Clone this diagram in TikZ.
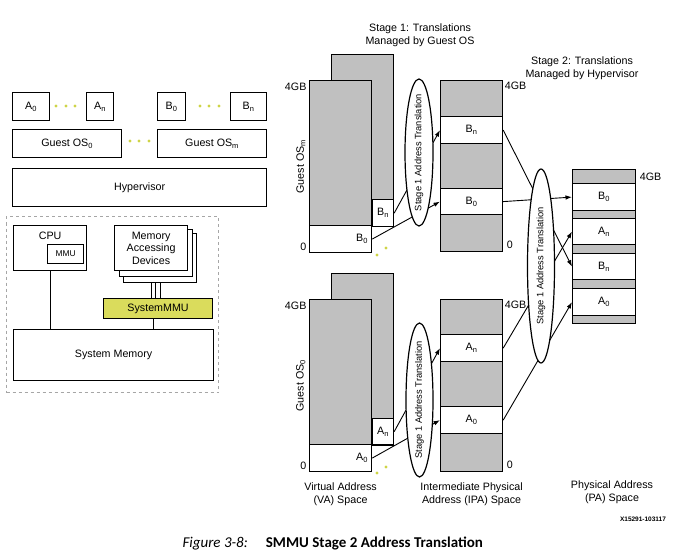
\documentclass[tikz,border=0pt]{standalone}
\usepackage{fontspec}
\setmainfont{Liberation Sans}
\newfontfamily\capfont{Carlito}
\usetikzlibrary{shapes.geometric,arrows.meta,positioning}
\definecolor{memgray}{RGB}{192,192,192}
\definecolor{smmuyellow}{RGB}{218,220,92}
\definecolor{dotyellow}{RGB}{206,212,70}

\begin{document}
\begin{tikzpicture}[x=1pt, y=-1pt, line width=1.2pt]
      \fontsize{10.7}{13}\selectfont
      \tikzstyle{box}=[draw, anchor=north west, inner sep=0pt]
      \tikzstyle{mem}=[box, fill=memgray]
      \tikzstyle{seg}=[box, fill=white]
      \tikzstyle{trans}=[draw, ellipse, fill=white, inner sep=0pt]
      \tikzstyle{translbl}=[rotate=90, font=\fontsize{9.3}{11}\selectfont]
      \tikzstyle{arrow}=[line width=0.9pt, -{Latex[length=6.5pt, width=4.5pt]}]
      \tikzstyle{dot}=[fill=dotyellow]
      \useasboundingbox (0,0) rectangle (677,556);

      % software stack
      \node[box, minimum width=37pt, minimum height=28pt] (a0) at (12,92) {A\textsubscript{0}};
      \node[box, minimum width=27pt, minimum height=28pt] (an) at (86,92) {A\textsubscript{n}};
      \node[box, minimum width=28pt, minimum height=28pt] (b0) at (157,92) {B\textsubscript{0}};
      \node[box, minimum width=36pt, minimum height=28pt] (bn) at (230,92) {B\textsubscript{n}};
      \node[box, minimum width=109pt, minimum height=28pt] (os0) at (12,129) {Guest OS\textsubscript{0}};
      \node[box, minimum width=109pt, minimum height=28pt] (osm) at (157,129) {Guest OS\textsubscript{m}};
      \node[box, minimum width=254pt, minimum height=38pt] (hyp) at (12,168) {Hypervisor};
      \foreach \x in {56,66,75,200,209,219} \fill[dot] (\x,106) circle (1.6pt);
      \foreach \x in {130,139,149} \fill[dot] (\x,141) circle (1.6pt);

      % hardware
      \node[box, draw=gray!70, dashed, line width=1pt, minimum width=212pt, minimum height=176pt] (soc) at (6,216) {};
      \node[box, minimum width=73pt, minimum height=45pt] (cpu) at (13,225) {};
      \node[below=3pt of cpu.north] (cpulbl) {CPU};
      \node[box, minimum width=36pt, minimum height=19pt, font=\fontsize{8.4}{10}\selectfont] (mmu) at (47,244) {MMU};
      \node[seg, minimum width=73pt, minimum height=49pt] (mad3) at (123,233) {};
      \node[seg, minimum width=73pt, minimum height=47pt] (mad2) at (118.5,229) {};
      \node[seg, minimum width=73pt, minimum height=45pt, align=center, font=\fontsize{10.7}{12.5}\selectfont] (mad1) at (114,225) {Memory\\Accessing\\Devices};
      \node[box, fill=smmuyellow, minimum width=109pt, minimum height=20pt] (smmu) at (103,298) {SystemMMU};
      \node[box, minimum width=200pt, minimum height=51pt] (sysmem) at (13,329) {System Memory};
      \foreach \m in {mad1,mad2,mad3}
        \draw (mad3.south -| \m.center) -- (smmu.north -| \m.center);
      \draw (cpu.south) -- (cpu.south |- sysmem.north);
      \draw ([xshift=-4.5pt]smmu.south) -- ([xshift=-4.5pt]smmu.south |- sysmem.north);

      % titles
      \node[align=center] (stage1) at (420,35.5) {Stage 1: Translations\\Managed by Guest OS};
      \node[align=center] (stage2) at (582,68) {Stage 2: Translations\\Managed by Hypervisor};

      % guest OS m, VA and IPA
      \node[mem, minimum width=62pt, minimum height=172pt] (vback1) at (331,54) {};
      \node[seg, minimum width=21pt, minimum height=27pt] (vbn1) at (372,199) {B\textsubscript{n}};
      \node[mem, minimum width=62pt, minimum height=172pt] (vfront1) at (309,80) {};
      \node[seg, minimum width=62pt, minimum height=27pt] (vb01) at (309,225) {};
      \node[anchor=east] (vb0lbl1) at (vb01.east) {B\textsubscript{0}};
      \node[anchor=north east, inner sep=2pt] (vtop1) at (vfront1.north west) {4GB};
      \node[anchor=south east, inner sep=2pt] (vbot1) at (vfront1.south west) {0};
      \node[rotate=90, anchor=south, inner sep=3pt] (vos1) at (vfront1.west) {Guest OS\textsubscript{m}};
      \fill[dot] (377,255) circle (1.6pt) (386,248) circle (1.6pt);

      \node[mem, minimum width=62pt, minimum height=171pt] (ipa1) at (440,80) {};
      \node[seg, minimum width=62pt, minimum height=27pt] (ibn1) at (440,116) {B\textsubscript{n}};
      \node[seg, minimum width=62pt, minimum height=26pt] (ib01) at (440,188) {B\textsubscript{0}};
      \node[anchor=north west, inner sep=1pt] (itop1) at (ipa1.north east) {4GB};
      \node[anchor=south west, inner sep=3pt] (ibot1) at (ipa1.south east) {0};

      \draw[arrow] (vbn1.east) -- (ibn1.west);
      \draw[arrow] (vb01.east) -- (ib01.west);
      \node[trans, minimum width=28pt, minimum height=147pt] (tr1) at (419,152.5) {};
      \node[translbl] (tr1lbl) at (tr1) {Stage 1 Address Translation};

      % guest OS 0, VA and IPA
      \node[mem, minimum width=62pt, minimum height=172pt] (vback2) at (331,273) {};
      \node[seg, minimum width=21pt, minimum height=26pt] (van2) at (372,418) {A\textsubscript{n}};
      \node[mem, minimum width=62pt, minimum height=172pt] (vfront2) at (309,299) {};
      \node[seg, minimum width=62pt, minimum height=27pt] (va02) at (309,444) {};
      \node[anchor=east] (va0lbl2) at (va02.east) {A\textsubscript{0}};
      \node[anchor=north east, inner sep=2pt] (vtop2) at (vfront2.north west) {4GB};
      \node[anchor=south east, inner sep=2pt] (vbot2) at (vfront2.south west) {0};
      \node[rotate=90, anchor=south, inner sep=3pt] (vos2) at (vfront2.west) {Guest OS\textsubscript{0}};
      \fill[dot] (377,473) circle (1.6pt) (386,467) circle (1.6pt);

      \node[mem, minimum width=62pt, minimum height=172pt] (ipa2) at (440,299) {};
      \node[seg, minimum width=62pt, minimum height=27pt] (ian2) at (440,334) {A\textsubscript{n}};
      \node[seg, minimum width=62pt, minimum height=27pt] (ia02) at (440,406) {A\textsubscript{0}};
      \node[anchor=north west, inner sep=1pt] (itop2) at (ipa2.north east) {4GB};
      \node[anchor=south west, inner sep=3pt] (ibot2) at (ipa2.south east) {0};

      \draw[arrow] (van2.east) -- (ian2.west);
      \draw[arrow] (va02.east) -- (ia02.west);
      \node[trans, minimum width=27pt, minimum height=154pt] (tr2) at (419.5,400) {};
      \node[translbl] (tr2lbl) at (tr2) {Stage 1 Address Translation};

      % PA
      \node[mem, minimum width=63pt, minimum height=154pt] (pa) at (572,169) {};
      \node[seg, minimum width=63pt, minimum height=27pt] (pb0) at (572,183) {B\textsubscript{0}};
      \node[seg, minimum width=63pt, minimum height=26pt] (pan) at (572,218) {A\textsubscript{n}};
      \node[seg, minimum width=63pt, minimum height=26pt] (pbn) at (572,253) {B\textsubscript{n}};
      \node[seg, minimum width=63pt, minimum height=27pt] (pa0) at (572,288) {A\textsubscript{0}};
      \node[anchor=north west, inner sep=3pt] (ptop) at (pa.north east) {4GB};

      \draw[arrow] (ibn1.east) -- (pbn.west);
      \draw[arrow] (ib01.east) -- (pb0.west);
      \draw[arrow] (ian2.east) -- (pan.west);
      \draw[arrow] (ia02.east) -- (pa0.west);
      \node[trans, minimum width=27pt, minimum height=194pt] (tr3) at (541,266) {};
      \node[translbl] (tr3lbl) at (tr3) {Stage 1 Address Translation};

      % space names
      \node[below=6pt of vfront2, align=center] (valbl) {Virtual Address\\(VA) Space};
      \node[below=6pt of ipa2, align=center] (ipalbl) {Intermediate Physical\\Address (IPA) Space};
      \node[align=center] (palbl) at (612,492.5) {Physical Address\\(PA) Space};
      \node[font=\fontsize{6.5}{8}\selectfont\bfseries] (figid) at (643,519) {X15291-103117};

      \node[anchor=west, inner sep=0pt, font=\capfont\fontsize{15}{18}\selectfont] (cap) at (182,544)
        {\textit{Figure 3-8:}\hspace{18pt}\textbf{SMMU Stage 2 Address Translation}};
\end{tikzpicture}
\end{document}
